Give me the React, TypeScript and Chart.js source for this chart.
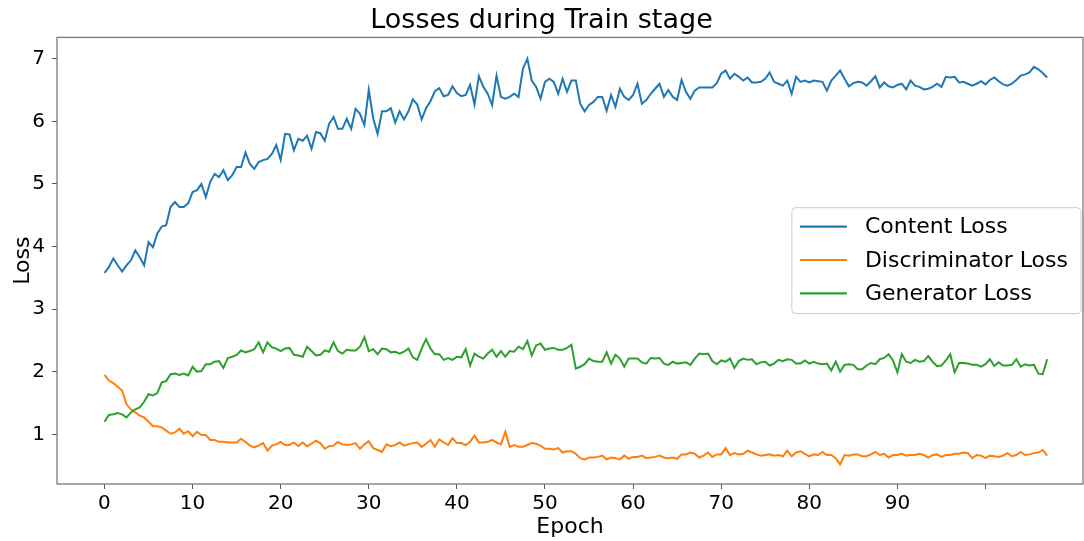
import React, { useEffect, useRef } from "react";
import { Chart, registerables } from "chart.js";

Chart.register(...registerables);

const STEP = 0.5; // epochs between samples

const contentLoss = [
  3.58, 3.67, 3.81, 3.70, 3.60, 3.70, 3.78, 3.94, 3.83, 3.70,
  4.07, 3.99, 4.21, 4.32, 4.34, 4.63, 4.71, 4.63, 4.63, 4.69,
  4.87, 4.90, 5.00, 4.79, 5.03, 5.16, 5.11, 5.22, 5.06, 5.14,
  5.27, 5.27, 5.50, 5.32, 5.24, 5.35, 5.38, 5.40, 5.48, 5.62,
  5.38, 5.80, 5.79, 5.54, 5.72, 5.69, 5.77, 5.56, 5.83, 5.81,
  5.69, 5.96, 6.07, 5.88, 5.88, 6.04, 5.88, 6.20, 6.12, 5.94,
  6.50, 6.05, 5.80, 6.16, 6.16, 6.21, 5.98, 6.16, 6.03, 6.16,
  6.35, 6.27, 6.03, 6.21, 6.32, 6.48, 6.53, 6.40, 6.42, 6.56,
  6.45, 6.40, 6.42, 6.58, 6.27, 6.72, 6.55, 6.44, 6.26, 6.73,
  6.39, 6.36, 6.39, 6.44, 6.39, 6.84, 7.00, 6.65, 6.55, 6.36,
  6.63, 6.68, 6.63, 6.44, 6.68, 6.47, 6.65, 6.65, 6.28, 6.16,
  6.26, 6.31, 6.39, 6.39, 6.17, 6.42, 6.23, 6.52, 6.39, 6.34,
  6.42, 6.60, 6.28, 6.34, 6.44, 6.52, 6.60, 6.39, 6.50, 6.39,
  6.34, 6.66, 6.47, 6.36, 6.49, 6.54, 6.54, 6.54, 6.54, 6.61,
  6.76, 6.81, 6.68, 6.76, 6.71, 6.65, 6.70, 6.62, 6.62, 6.63,
  6.68, 6.78, 6.63, 6.60, 6.57, 6.65, 6.44, 6.71, 6.63, 6.65,
  6.62, 6.65, 6.64, 6.63, 6.49, 6.65, 6.73, 6.81, 6.68, 6.56,
  6.61, 6.63, 6.62, 6.57, 6.64, 6.72, 6.54, 6.62, 6.56, 6.54,
  6.58, 6.60, 6.51, 6.65, 6.57, 6.55, 6.51, 6.52, 6.55, 6.60,
  6.55, 6.71, 6.70, 6.71, 6.62, 6.63, 6.60, 6.57, 6.60, 6.64,
  6.59, 6.66, 6.70, 6.64, 6.59, 6.57, 6.60, 6.66, 6.73, 6.75,
  6.78, 6.87, 6.83, 6.77, 6.70,
];

const discriminatorLoss = [
  1.95, 1.86, 1.82, 1.76, 1.70, 1.48, 1.40, 1.35, 1.30, 1.27,
  1.20, 1.13, 1.13, 1.11, 1.06, 1.01, 1.03, 1.09, 1.01, 1.05,
  0.97, 1.04, 0.99, 0.99, 0.91, 0.91, 0.88, 0.88, 0.87, 0.87,
  0.87, 0.93, 0.88, 0.82, 0.79, 0.82, 0.86, 0.74, 0.82, 0.84,
  0.88, 0.83, 0.83, 0.87, 0.81, 0.87, 0.81, 0.85, 0.90, 0.86,
  0.77, 0.81, 0.82, 0.88, 0.84, 0.83, 0.84, 0.86, 0.77, 0.84,
  0.89, 0.78, 0.75, 0.72, 0.84, 0.81, 0.83, 0.87, 0.82, 0.84,
  0.86, 0.87, 0.80, 0.85, 0.91, 0.80, 0.92, 0.87, 0.83, 0.94,
  0.86, 0.86, 0.83, 0.88, 0.98, 0.87, 0.87, 0.88, 0.91, 0.87,
  0.84, 1.04, 0.80, 0.83, 0.80, 0.80, 0.83, 0.86, 0.85, 0.82,
  0.77, 0.77, 0.76, 0.78, 0.71, 0.73, 0.73, 0.69, 0.62, 0.60,
  0.63, 0.63, 0.64, 0.66, 0.60, 0.63, 0.62, 0.60, 0.66, 0.61,
  0.64, 0.64, 0.66, 0.62, 0.63, 0.64, 0.66, 0.63, 0.62, 0.63,
  0.61, 0.68, 0.68, 0.71, 0.69, 0.63, 0.66, 0.71, 0.64, 0.68,
  0.68, 0.78, 0.67, 0.70, 0.68, 0.69, 0.74, 0.71, 0.68, 0.66,
  0.67, 0.68, 0.66, 0.67, 0.65, 0.74, 0.65, 0.71, 0.73, 0.69,
  0.65, 0.68, 0.67, 0.72, 0.67, 0.67, 0.62, 0.52, 0.67, 0.66,
  0.68, 0.68, 0.65, 0.65, 0.68, 0.72, 0.67, 0.69, 0.63, 0.67,
  0.67, 0.69, 0.66, 0.67, 0.67, 0.69, 0.67, 0.63, 0.67, 0.68,
  0.64, 0.67, 0.67, 0.69, 0.69, 0.71, 0.70, 0.62, 0.67, 0.66,
  0.62, 0.66, 0.65, 0.64, 0.66, 0.70, 0.65, 0.67, 0.72, 0.67,
  0.68, 0.70, 0.71, 0.75, 0.66,
];

const generatorLoss = [
  1.20, 1.31, 1.32, 1.34, 1.32, 1.27, 1.35, 1.40, 1.43, 1.52,
  1.64, 1.62, 1.66, 1.83, 1.85, 1.96, 1.97, 1.95, 1.97, 1.94,
  2.08, 2.00, 2.01, 2.12, 2.12, 2.16, 2.17, 2.06, 2.22, 2.24,
  2.27, 2.34, 2.31, 2.33, 2.36, 2.47, 2.31, 2.47, 2.39, 2.37,
  2.33, 2.37, 2.38, 2.27, 2.26, 2.24, 2.40, 2.33, 2.26, 2.27,
  2.34, 2.32, 2.47, 2.33, 2.29, 2.35, 2.34, 2.34, 2.40, 2.55,
  2.33, 2.36, 2.28, 2.37, 2.36, 2.31, 2.32, 2.29, 2.32, 2.37,
  2.23, 2.19, 2.37, 2.52, 2.37, 2.28, 2.28, 2.19, 2.22, 2.19,
  2.24, 2.23, 2.36, 2.10, 2.29, 2.24, 2.21, 2.29, 2.35, 2.24,
  2.33, 2.24, 2.33, 2.32, 2.40, 2.36, 2.49, 2.26, 2.42, 2.45,
  2.35, 2.37, 2.38, 2.35, 2.35, 2.38, 2.43, 2.05, 2.08, 2.12,
  2.21, 2.17, 2.16, 2.16, 2.31, 2.13, 2.27, 2.21, 2.08, 2.21,
  2.21, 2.21, 2.15, 2.13, 2.22, 2.21, 2.22, 2.13, 2.11, 2.16,
  2.13, 2.14, 2.15, 2.11, 2.21, 2.29, 2.28, 2.29, 2.17, 2.12,
  2.18, 2.16, 2.21, 2.06, 2.17, 2.21, 2.19, 2.20, 2.12, 2.15,
  2.16, 2.10, 2.13, 2.19, 2.17, 2.20, 2.19, 2.13, 2.13, 2.18,
  2.13, 2.16, 2.13, 2.12, 2.13, 2.02, 2.16, 2.00, 2.11, 2.12,
  2.11, 2.04, 2.04, 2.10, 2.14, 2.12, 2.20, 2.22, 2.28, 2.18,
  1.99, 2.28, 2.16, 2.14, 2.19, 2.16, 2.17, 2.25, 2.16, 2.09,
  2.10, 2.18, 2.28, 1.99, 2.14, 2.14, 2.13, 2.11, 2.11, 2.08,
  2.12, 2.20, 2.09, 2.15, 2.10, 2.10, 2.11, 2.20, 2.08, 2.12,
  2.10, 2.11, 1.97, 1.96, 2.20,
];

const seriesLabels = ["Content Loss", "Discriminator Loss", "Generator Loss"];
const seriesColors = ["#1f77b4", "#ff7f0e", "#2ca02c"];
const xTicks = [0, 10, 20, 30, 40, 50, 60, 70, 80, 90, 100];
const xTickLabels = ["0", "10", "20", "30", "40", "50", "60", "70", "80", "90", ""];
const yTicks = [1, 2, 3, 4, 5, 6, 7];
const yTickLabels = ["1", "2", "3", "4", "5", "6", "7"];

const FONT = "'DejaVu Sans', 'Liberation Sans', sans-serif";

const framePlugin = {
  id: "mplFrame",
  afterDatasetsDraw(chart: any) {
    const { ctx, chartArea: a } = chart;
    ctx.save();
    ctx.strokeStyle = "#7a7a7a";
    ctx.lineWidth = 1.3;
    ctx.strokeRect(a.left, a.top, a.right - a.left, a.bottom - a.top);
    ctx.restore();
  },
};

const legendPlugin = {
  id: "mplLegend",
  afterDraw(chart: any) {
    const { ctx, chartArea: a } = chart;
    const labels: string[] = chart.data.datasets.map((d: any) => d.label);
    const colors: string[] = chart.data.datasets.map((d: any) => d.borderColor);
    ctx.save();
    ctx.font = `22px ${FONT}`;
    const textW = Math.max(...labels.map((l) => ctx.measureText(l).width));
    const padL = 8, lineLen = 47, gap = 18, padR = 13;
    const rowH = 33.3, boxH = 106;
    const boxW = padL + lineLen + gap + textW + padR;
    const right = a.right - 2;
    const left = right - boxW;
    const top = (a.top + a.bottom) / 2 - boxH / 2;
    ctx.beginPath();
    if ((ctx as any).roundRect) (ctx as any).roundRect(left, top, boxW, boxH, 4);
    else ctx.rect(left, top, boxW, boxH);
    ctx.fillStyle = "rgba(255,255,255,0.8)";
    ctx.fill();
    ctx.strokeStyle = "#cccccc";
    ctx.lineWidth = 1;
    ctx.stroke();
    labels.forEach((lab, i) => {
      const y = top + 19 + i * rowH;
      ctx.beginPath();
      ctx.moveTo(left + padL, y);
      ctx.lineTo(left + padL + lineLen, y);
      ctx.strokeStyle = colors[i];
      ctx.lineWidth = 2.2;
      ctx.stroke();
      ctx.fillStyle = "#000";
      ctx.textBaseline = "middle";
      ctx.textAlign = "left";
      ctx.fillText(lab, left + padL + lineLen + gap, y + 1);
    });
    ctx.restore();
  },
};

export default function App() {
  const canvasRef = useRef<HTMLCanvasElement | null>(null);

  useEffect(() => {
    if (!canvasRef.current) return;
    const epochs = contentLoss.map((_, i) => i * STEP);
    const series = [contentLoss, discriminatorLoss, generatorLoss];
    const chart = new Chart(canvasRef.current, {
      type: "line",
      data: {
        datasets: series.map((vals, s) => ({
          label: seriesLabels[s],
          data: vals.map((y, i) => ({ x: epochs[i], y })),
          borderColor: seriesColors[s],
          backgroundColor: seriesColors[s],
          borderWidth: 2,
          pointRadius: 0,
          tension: 0,
          fill: false,
          order: 3 - s,
        })),
      },
      options: {
        animation: false,
        responsive: false,
        devicePixelRatio: 1,
        layout: { padding: { left: 0, right: 1, top: 0, bottom: 0 } },
        plugins: {
          legend: { display: false },
          tooltip: { enabled: false },
          title: {
            display: true,
            text: "Losses during Train stage",
            color: "#000",
            font: { family: FONT, size: 27, weight: "normal" },
            padding: { top: 5, bottom: 0 },
          },
        },
        scales: {
          x: {
            type: "linear",
            min: -5.39,
            max: 111.07,
            afterBuildTicks: (s: any) => {
              s.ticks = xTicks.map((v) => ({ value: v }));
            },
            afterFit: (s: any) => {
              s.height = 57;
            },
            ticks: {
              callback: (_v: any, i: number) => xTickLabels[i],
              color: "#000",
              font: { family: FONT, size: 20 },
              padding: 3,
              maxRotation: 0,
              autoSkip: false,
            },
            grid: { display: true, drawOnChartArea: false, drawTicks: true, tickLength: 5, color: "#555" },
            border: { display: false },
            title: {
              display: true,
              text: "Epoch",
              color: "#000",
              font: { family: FONT, size: 22 },
              padding: { top: 0, bottom: 1 },
            },
          },
          y: {
            type: "linear",
            min: 0.207,
            max: 7.34,
            afterBuildTicks: (s: any) => {
              s.ticks = yTicks.map((v) => ({ value: v }));
            },
            afterFit: (s: any) => {
              s.width = 57;
            },
            ticks: {
              callback: (_v: any, i: number) => yTickLabels[i],
              color: "#000",
              font: { family: FONT, size: 20 },
              padding: 7,
            },
            grid: { display: true, drawOnChartArea: false, drawTicks: true, tickLength: 5, color: "#555" },
            border: { display: false },
            title: {
              display: true,
              text: "Loss",
              color: "#000",
              font: { family: FONT, size: 22 },
              padding: { top: 10, bottom: 0 },
            },
          },
        },
      } as any,
      plugins: [framePlugin, legendPlugin],
    });
    return () => chart.destroy();
  }, []);

  return (
    <div style={{ position: "fixed", left: 0, top: 0, width: 1084, height: 541, background: "#fff" }}>
      <canvas ref={canvasRef} width={1084} height={541} />
    </div>
  );
}
